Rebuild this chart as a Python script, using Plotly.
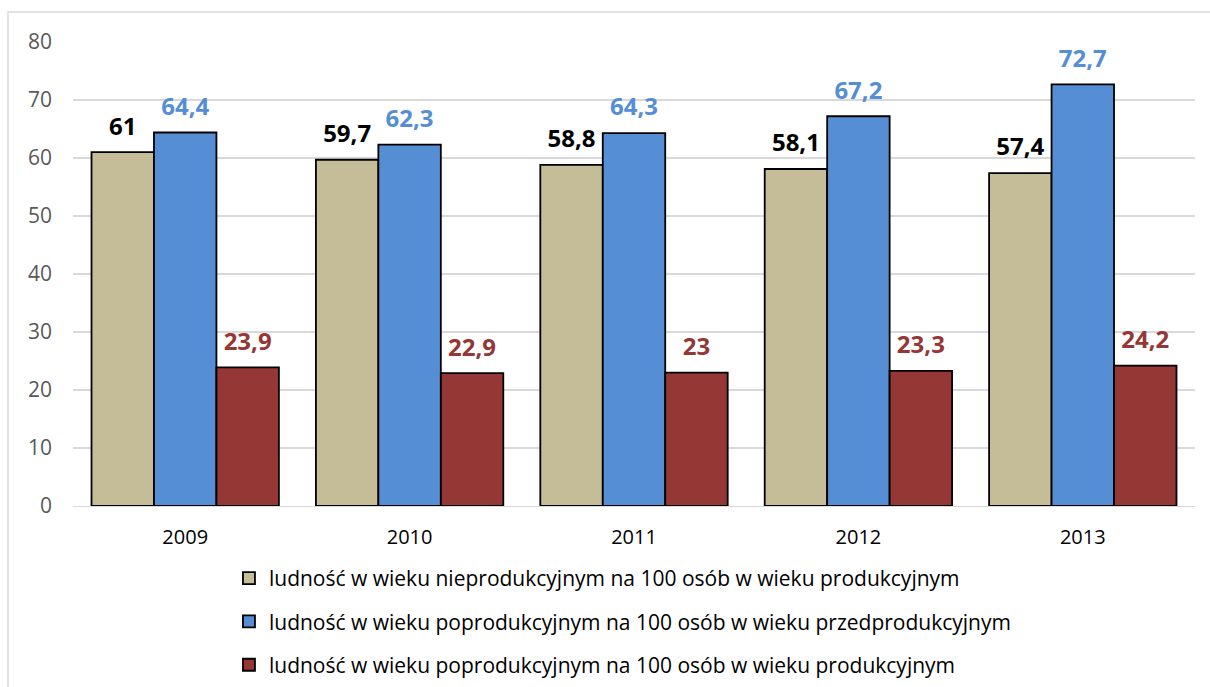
import plotly.graph_objects as go

years = ["2009", "2010", "2011", "2012", "2013"]
nieprod_prod = [61, 59.7, 58.8, 58.1, 57.4]
poprod_przed = [64.4, 62.3, 64.3, 67.2, 72.7]
poprod_prod = [23.9, 22.9, 23, 23.3, 24.2]
names = [
    "ludność w wieku nieprodukcyjnym na 100 osób w wieku produkcyjnym",
    "ludność w wieku poprodukcyjnym na 100 osób w wieku przedprodukcyjnym",
    "ludność w wieku poprodukcyjnym na 100 osób w wieku produkcyjnym",
]
fills = ["#C4BD97", "#558ED5", "#953735"]
label_colors = ["#000000", "#558ED5", "#953735"]

def fmt(v):
    return ("%g" % v).replace(".", ",")

fig = go.Figure()
series = [nieprod_prod, poprod_przed, poprod_prod]
for i, vals in enumerate(series):
    fig.add_trace(go.Bar(
        x=years, y=vals, name=names[i], offsetgroup=str(i),
        marker=dict(color=fills[i], line=dict(color="black", width=1.8)),
        legendgroup="g%d" % i,
    ))
for i, vals in enumerate(series):
    fig.add_trace(go.Scatter(
        x=years, y=vals, offsetgroup=str(i), mode="markers+text",
        marker=dict(size=17, opacity=0), showlegend=False, hoverinfo="skip",
        text=[fmt(v) for v in vals], textposition="top center",
        textfont=dict(family="Open Sans", size=24, color=label_colors[i], weight="bold"),
        cliponaxis=False,
    ))

fig.update_layout(
    width=1210, height=687,
    margin=dict(l=73, r=15, t=42, b=181, autoexpand=False),
    paper_bgcolor="white", plot_bgcolor="white",
    barmode="group", bargap=0.165, bargroupgap=0,
    scattermode="group", scattergap=0.165,
    font=dict(family="Open Sans", size=20, color="#595959"),
    xaxis=dict(tickfont=dict(color="#000000", size=20), showline=True, linecolor="#d9d9d9", linewidth=1,
               ticks="", ticklabelstandoff=13),
    yaxis=dict(range=[0, 80], dtick=10, showgrid=True, gridcolor="#d9d9d9", gridwidth=1.5,
               zeroline=False, ticks="", tickfont=dict(color="#595959", size=21), ticklabelstandoff=20),
    legend=dict(orientation="v", x=0.139, xanchor="left", yref="container", y=0.1878, yanchor="top",
                font=dict(family="Open Sans", size=21, color="#000000"), tracegroupgap=13,
                itemwidth=30),
    showlegend=True,
    shapes=[dict(type="rect", xref="paper", yref="paper",
                 x0=-0.0579, x1=1.03, y0=-0.42, y1=1.0647,
                 line=dict(color="#d9d9d9", width=1.5), fillcolor="rgba(0,0,0,0)", layer="below")],
)
fig.write_html("out.html", config={"displayModeBar": False},
               post_script="document.body.style.margin='0';")
